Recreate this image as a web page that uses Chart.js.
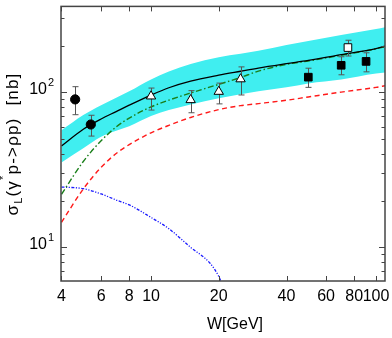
<!DOCTYPE html>
<html>
<head>
<meta charset="utf-8">
<script src="https://cdn.jsdelivr.net/npm/chart.js@4.4.1/dist/chart.umd.min.js"></script>
<style>
  html, body { margin: 0; padding: 0; background: #fff; }
</style>
</head>
<body>
<canvas id="chart" width="392" height="338"></canvas>
<script>
// W grid for the model curves
const wCurve = [4, 5, 6, 7, 8, 10, 12, 15, 20, 25, 30, 40, 50, 70, 100, 110];
const bandUpper = [57.0, 71.4, 82.6, 92.3, 101.5, 121, 136, 152, 168.3, 177.1, 185.1, 202.2, 214.4, 234, 255.6, 263];
const bandLower = [35.3, 43.6, 51.7, 56.5, 60.5, 70.3, 76.8, 83.5, 91.6, 97.1, 101.5, 107.6, 114.1, 121, 132.1, 134.1];
const totalCurve = [45.1, 57.8, 67.3, 75.1, 82.6, 96, 107, 118, 128.9, 136.7, 143.3, 153, 160.6, 174.7, 191.5, 198.4];
const greenCurve = [22.0, 35.8, 48.7, 59.8, 68.2, 80.5, 89, 99, 112.5, 124.6, 137, 151.4, 159.2, 173.3, 190.6, 196.8];
const redCurve = [14.5, 23.8, 32.8, 40.3, 46, 54.8, 61.2, 68.8, 77.3, 82, 84.5, 88.9, 93.3, 100.3, 107.6, 110.3];

// blue curve has its own W grid (it drops out of the frame near W=20)
const wBlue = [4, 5, 6, 7, 8, 10, 12, 15, 18.3, 20, 20.7];
const blueCurve = [24.5, 23.9, 22.1, 20.2, 18.8, 15.6, 13.2, 10.0, 7.9, 6.5, 5.8];

// measurements: value, upper and lower end of the error bar
const wCircle = [4.6, 5.4];
const sCircle = [90, 62];
const hiCircle = [108.7, 71.1];
const loCircle = [71.7, 52.2];

const wTri = [10, 15, 20, 25];
const sTri = [94.3, 89.3, 101, 121.6];
const hiTri = [106.5, 102.5, 114.6, 145.8];
const loTri = [76.8, 73.8, 84.2, 96.1];

const wSquare = [50, 70, 90.3];
const sSquare = [125.2, 149.3, 158.2];
const hiSquare = [143, 169.5, 179.8];
const loSquare = [107.6, 129.7, 135.5];

const wOpenSq = [75];
const sOpenSq = [194.3];
const hiOpenSq = [216.6];
const loOpenSq = [171.4];

// axis ticks
const xTickValues = [4, 6, 8, 10, 20, 40, 60, 80, 100];
const xTickLabels = ['4', '6', '8', '10', '20', '40', '60', '80', '100'];
const yMajorValues = [10, 100];
const yMajorExp = ['1', '2'];
const yMinorValues = [7, 8, 9, 20, 30, 40, 50, 60, 70, 80, 90, 200, 300];

const FONT = '"Liberation Sans", Arial, sans-serif';

const toPoints = (xs, ys) => xs.map((x, i) => ({ x, y: ys[i] }));

const curve = (data, color, dash, width) => ({
  data,
  borderColor: color,
  borderWidth: width,
  borderDash: dash,
  pointRadius: 0,
  fill: false,
  cubicInterpolationMode: 'monotone'
});

const markers = (data, style, fillColor, radius) => ({
  data,
  showLine: false,
  pointStyle: style,
  pointRadius: radius,
  pointBackgroundColor: fillColor,
  pointBorderColor: '#000',
  pointBorderWidth: 1
});

// error bars drawn just before the markers so they sit over the curves
const errorSets = [
  [wCircle, hiCircle, loCircle],
  [wTri, hiTri, loTri],
  [wSquare, hiSquare, loSquare],
  [wOpenSq, hiOpenSq, loOpenSq]
];

const drawErrorBars = chart => {
  const { ctx, scales } = chart;
  ctx.save();
  ctx.strokeStyle = '#555';
  ctx.lineWidth = 1;
  errorSets.forEach(([xs, his, los]) => {
    xs.forEach((w, i) => {
      const px = Math.round(scales.x.getPixelForValue(w)) + 0.5;
      const top = scales.y.getPixelForValue(his[i]);
      const bot = scales.y.getPixelForValue(los[i]);
      ctx.beginPath();
      ctx.moveTo(px, top);
      ctx.lineTo(px, bot);
      ctx.moveTo(px - 3, top);
      ctx.lineTo(px + 3, top);
      ctx.moveTo(px - 3, bot);
      ctx.lineTo(px + 3, bot);
      ctx.stroke();
    });
  });
  ctx.restore();
};

const axesPlugin = {
  id: 'axesPlugin',
  beforeDatasetDraw(chart, args) {
    if (args.index === 3) drawErrorBars(chart);
  },
  afterDatasetsDraw(chart) {
    const { ctx, chartArea: a, scales } = chart;
    ctx.save();
    ctx.strokeStyle = '#444';
    ctx.lineWidth = 1.5;
    ctx.strokeRect(a.left, a.top, a.right - a.left, a.bottom - a.top);

    ctx.lineWidth = 1;
    ctx.beginPath();
    // x ticks, bottom and top, pointing inwards
    xTickValues.forEach(v => {
      const px = Math.round(scales.x.getPixelForValue(v)) + 0.5;
      ctx.moveTo(px, a.bottom);
      ctx.lineTo(px, a.bottom - 5);
      ctx.moveTo(px, a.top);
      ctx.lineTo(px, a.top + 5);
    });
    // y ticks, left and right
    yMajorValues.forEach(v => {
      const py = Math.round(scales.y.getPixelForValue(v)) + 0.5;
      ctx.moveTo(a.left, py);
      ctx.lineTo(a.left + 6, py);
      ctx.moveTo(a.right, py);
      ctx.lineTo(a.right - 6, py);
    });
    yMinorValues.forEach(v => {
      const py = Math.round(scales.y.getPixelForValue(v)) + 0.5;
      ctx.moveTo(a.left, py);
      ctx.lineTo(a.left + 3.5, py);
      ctx.moveTo(a.right, py);
      ctx.lineTo(a.right - 3.5, py);
    });
    ctx.stroke();
    ctx.restore();
  },
  afterDraw(chart) {
    const { ctx, chartArea: a, scales } = chart;
    ctx.save();
    ctx.fillStyle = '#000';

    // x tick labels
    ctx.font = `16px ${FONT}`;
    ctx.textAlign = 'center';
    ctx.textBaseline = 'middle';
    xTickValues.forEach((v, i) => {
      ctx.fillText(xTickLabels[i], scales.x.getPixelForValue(v), a.bottom + 16);
    });

    // y tick labels 10^n
    yMajorValues.forEach((v, i) => {
      const py = scales.y.getPixelForValue(v) - 3;
      ctx.font = `16px ${FONT}`;
      ctx.textAlign = 'right';
      ctx.fillText('10', 47, py);
      ctx.font = `11px ${FONT}`;
      ctx.textAlign = 'left';
      ctx.fillText(yMajorExp[i], 48, py - 6);
    });

    // x title
    ctx.font = `16px ${FONT}`;
    ctx.textAlign = 'center';
    ctx.fillText('W[GeV]', 235, 325);

    // y title, rotated, with sub/superscripts
    const parts = [
      { t: '\u03c3', size: 17, dy: 0 },
      { t: 'L', size: 11, dy: 4 },
      { t: '(\u03b3', size: 17, dy: 0 },
      { t: '*', size: 11, dy: -11 },
      { t: 'p->\u03c1p)  [nb]', size: 17, dy: 0 }
    ];
    ctx.translate(18, 144);
    ctx.rotate(-Math.PI / 2);
    ctx.textAlign = 'left';
    ctx.textBaseline = 'alphabetic';
    ctx.letterSpacing = '1.2px';
    let total = 0;
    parts.forEach(p => {
      ctx.font = `${p.size}px ${FONT}`;
      total += ctx.measureText(p.t).width;
    });
    let cx = -total / 2;
    parts.forEach(p => {
      ctx.font = `${p.size}px ${FONT}`;
      ctx.fillText(p.t, cx, p.dy);
      cx += ctx.measureText(p.t).width;
    });
    ctx.restore();
  }
};

new Chart(document.getElementById('chart'), {
  type: 'line',
  data: {
    datasets: [
      markers(toPoints(wCircle, sCircle), 'circle', '#000', 4.6),
      markers(toPoints(wTri, sTri), 'triangle', '#fff', 5.4),
      markers(toPoints(wSquare, sSquare), 'rect', '#000', 5.4),
      markers(toPoints(wOpenSq, sOpenSq), 'rect', '#fff', 5.4),
      curve(toPoints(wCurve, totalCurve), '#000', [], 1.3),
      curve(toPoints(wCurve, greenCurve), '#1a7f1a', [6, 2.5, 1.5, 2.5], 1.4),
      curve(toPoints(wCurve, redCurve), '#ff1a1a', [5, 3.5], 1.4),
      curve(toPoints(wBlue, blueCurve), '#1a1aff', [3, 1.5, 1.2, 1.5, 1.2, 1.5], 1.3),
      {
        data: toPoints(wCurve, bandUpper),
        borderWidth: 0,
        pointRadius: 0,
        cubicInterpolationMode: 'monotone',
        backgroundColor: '#40eef0',
        fill: '+1'
      },
      {
        data: toPoints(wCurve, bandLower),
        borderWidth: 0,
        pointRadius: 0,
        cubicInterpolationMode: 'monotone',
        fill: false
      }
    ]
  },
  options: {
    responsive: false,
    animation: false,
    layout: { padding: { left: 61, right: 7, top: 3, bottom: 57 } },
    plugins: {
      legend: { display: false },
      tooltip: { enabled: false }
    },
    scales: {
      x: { type: 'logarithmic', min: 3.98, max: 109.6, display: false },
      y: { type: 'logarithmic', min: 6.07, max: 358, display: false }
    }
  },
  plugins: [axesPlugin]
});
</script>
</body>
</html>
